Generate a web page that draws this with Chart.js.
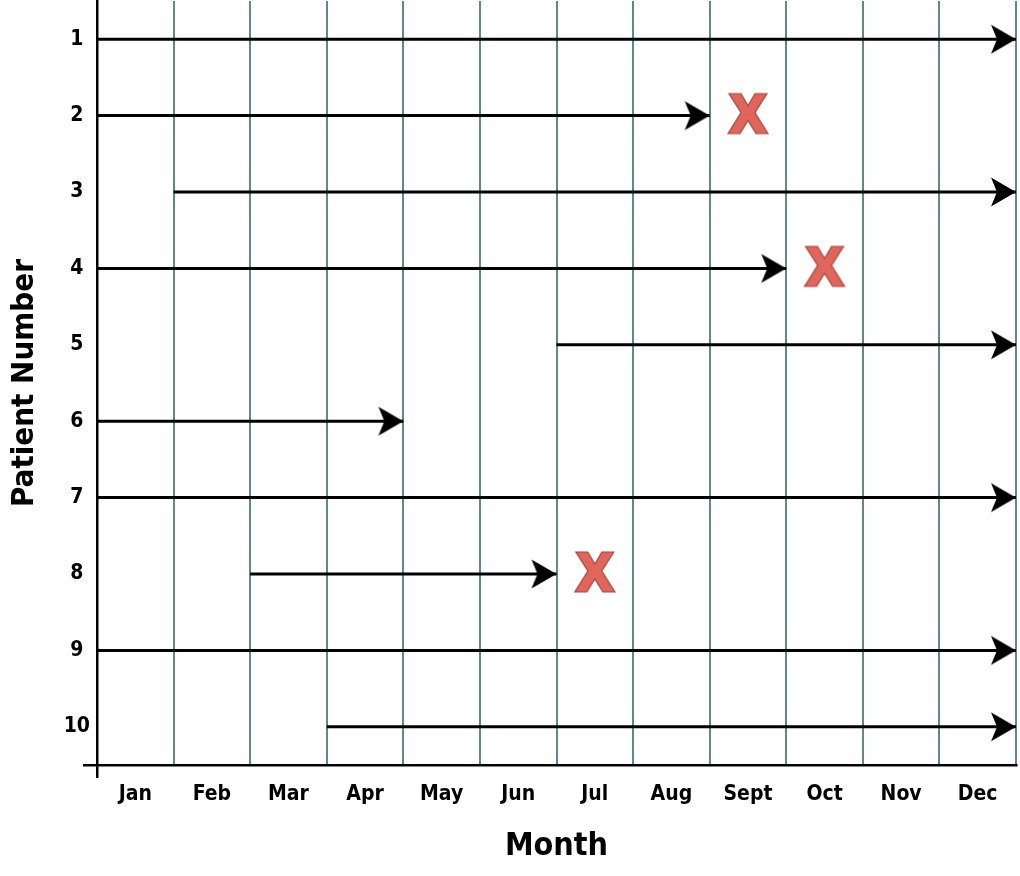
<!DOCTYPE html>
<html lang="en">
<head>
    <meta charset="UTF-8">
    <title>Patient Number by Month</title>
    <script src="https://cdn.jsdelivr.net/npm/chart.js@4.4.0/dist/chart.umd.min.js"></script>
    <style>
        html, body {
            margin: 0;
            padding: 0;
            background: #fff;
        }
        .chart-container {
            position: relative;
            width: 1020px;
            height: 876px;
        }
    </style>
</head>
<body>
    <div class="chart-container">
        <canvas id="followChart"></canvas>
    </div>

    <script>
        const monthLabels = ['Jan', 'Feb', 'Mar', 'Apr', 'May', 'Jun', 'Jul', 'Aug', 'Sept', 'Oct', 'Nov', 'Dec'];
        const monthBounds = [0, 1, 2, 3, 4, 5, 6, 7, 8, 9, 10, 11, 12];
        const patients = [1, 2, 3, 4, 5, 6, 7, 8, 9, 10];
        const startMonth = [0, 0, 1, 0, 6, 0, 0, 2, 0, 3];
        const endMonth = [12, 8, 12, 9, 12, 4, 12, 6, 12, 12];
        const dropoutPatients = [2, 4, 8];
        const dropoutMonth = [8.5, 9.5, 6.5];

        const labelFont = "'DejaVu Sans Condensed', 'DejaVu Sans', sans-serif";
        const gridColor = '#5e8b83';

        // arrow head image, tip sits in the middle of the canvas
        function makeArrowHead() {
            const c = document.createElement('canvas');
            c.width = 56;
            c.height = 32;
            const g = c.getContext('2d');
            g.fillStyle = '#000';
            g.beginPath();
            g.moveTo(28, 16);
            g.lineTo(3, 1.5);
            g.lineTo(9, 16);
            g.lineTo(3, 30.5);
            g.closePath();
            g.fill();
            return c;
        }

        // red "X" drop-out mark (drawn a little above its centre)
        function makeCross() {
            const c = document.createElement('canvas');
            c.width = 44;
            c.height = 48;
            const g = c.getContext('2d');
            const pts = [[1, 0], [13, 0], [20, 12], [27, 0], [39, 0], [27, 19],
                         [40, 40], [28, 40], [20, 27], [12, 40], [0, 40], [13, 19]];
            g.translate(2, 2);
            g.beginPath();
            pts.forEach((p, i) => i ? g.lineTo(p[0], p[1]) : g.moveTo(p[0], p[1]));
            g.closePath();
            g.fillStyle = '#e0655a';
            g.fill();
            g.strokeStyle = '#a8473e';
            g.lineWidth = 1.2;
            g.stroke();
            return c;
        }

        const arrowHead = makeArrowHead();
        const crossMark = makeCross();

        const datasets = patients.map((p, i) => ({
            label: 'Patient ' + p,
            data: [{x: startMonth[i], y: p}, {x: endMonth[i], y: p}],
            borderColor: '#000',
            borderWidth: 3,
            pointRadius: [0, 12],
            pointHoverRadius: [0, 12],
            pointStyle: arrowHead,
            clip: false
        }));

        datasets.push({
            label: 'Drop-out',
            data: dropoutPatients.map((p, i) => ({x: dropoutMonth[i], y: p})),
            showLine: false,
            pointRadius: 20,
            pointHoverRadius: 20,
            pointStyle: crossMark,
            clip: false
        });

        new Chart(document.getElementById('followChart'), {
            type: 'line',
            data: { datasets: datasets },
            options: {
                responsive: true,
                maintainAspectRatio: false,
                animation: false,
                layout: {
                    autoPadding: false,
                    padding: { top: 1, right: 4, left: 0, bottom: 0 }
                },
                plugins: {
                    legend: { display: false },
                    tooltip: { enabled: false }
                },
                scales: {
                    // month boundaries (vertical grid)
                    xGrid: {
                        axis: 'x',
                        type: 'linear',
                        position: 'top',
                        min: 0,
                        max: 12,
                        afterBuildTicks: s => { s.ticks = monthBounds.map(v => ({value: v})); },
                        afterFit: s => { s.height = 0; s.paddingLeft = 0; s.paddingRight = 0; },
                        ticks: { display: false },
                        grid: {
                            drawTicks: false,
                            lineWidth: 2,
                            color: ctx => (ctx.tick && ctx.tick.value === 0) ? 'rgba(0,0,0,0)' : gridColor
                        },
                        border: { display: false }
                    },
                    x: {
                        type: 'linear',
                        position: 'bottom',
                        min: 0,
                        max: 12,
                        afterBuildTicks: s => {
                            s.ticks = [{value: 0}].concat(monthLabels.map((m, i) => ({value: i + 0.5})));
                        },
                        afterFit: s => { s.height = 111; s.paddingLeft = 0; s.paddingRight = 0; },
                        ticks: {
                            autoSkip: false,
                            maxRotation: 0,
                            padding: 4,
                            color: '#000',
                            font: { family: labelFont, size: 21, weight: 'bold' },
                            callback: v => (v % 1 === 0.5) ? monthLabels[Math.floor(v)] : ''
                        },
                        grid: {
                            drawOnChartArea: false,
                            tickLength: 13,
                            lineWidth: 2.5,
                            color: ctx => (ctx.tick && ctx.tick.value === 0) ? '#000' : 'rgba(0,0,0,0)'
                        },
                        border: { color: '#000', width: 2.5 },
                        title: {
                            display: true,
                            text: 'Month',
                            color: '#000',
                            font: { family: labelFont, size: 32, weight: 'bold' },
                            padding: { top: 0, bottom: 10 }
                        }
                    },
                    y: {
                        type: 'linear',
                        reverse: true,
                        min: 0.5,
                        max: 10.5,
                        afterBuildTicks: s => {
                            s.ticks = patients.map(p => ({value: p})).concat([{value: 10.5}]);
                        },
                        afterFit: s => { s.width = 97; s.paddingTop = 0; s.paddingBottom = 0; },
                        ticks: {
                            crossAlign: 'center',
                            padding: -7,
                            color: '#000',
                            font: { family: labelFont, size: 21, weight: 'bold' },
                            callback: v => Number.isInteger(v) ? String(v) : ''
                        },
                        grid: {
                            drawOnChartArea: false,
                            tickLength: 14,
                            lineWidth: 2.5,
                            color: ctx => (ctx.tick && ctx.tick.value === 10.5) ? '#000' : 'rgba(0,0,0,0)'
                        },
                        border: { color: '#000', width: 2.5 },
                        title: {
                            display: true,
                            text: 'Patient Number',
                            color: '#000',
                            font: { family: labelFont, size: 31, weight: 'bold' },
                            padding: { top: 6, bottom: 0 }
                        }
                    }
                }
            }
        });
    </script>
</body>
</html>
